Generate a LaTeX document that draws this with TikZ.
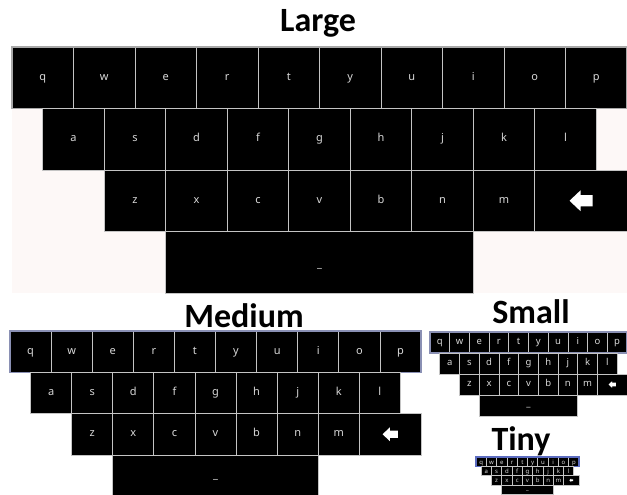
\documentclass[tikz,border=0pt]{standalone}
\usepackage{fontspec}
\setmainfont{Carlito}
\newfontfamily\keyfont{Noto Sans}
\usetikzlibrary{positioning, calc}

\definecolor{keyline}{HTML}{C4C4C4}
\definecolor{keytext}{HTML}{D8D8D8}
\definecolor{padbg}{HTML}{FDF8F7}
\definecolor{rowgray}{HTML}{A8A8A8}
\definecolor{rowblue}{HTML}{8A90B4}
\definecolor{tinyblue}{HTML}{5C6CC0}

\begin{document}
\begin{tikzpicture}[x=1pt, y=-1pt,
    key/.style={draw=keyline, line width=0.8pt, fill=black, text=keytext, inner sep=0pt, outer sep=0pt,
                text height=1ex, text depth=0pt},
    keylbl/.style={text=keytext, inner sep=0pt},
    title/.style={font=\bfseries\fontsize{34}{34}\selectfont, anchor=base}]
    \useasboundingbox (0,0) rectangle (627,495);

    % background behind the large pad
    \fill[padbg] (12,47) rectangle (627,293);

    % keyboards: name / left / top / key width / key height / font size / outline colour
    \foreach \kb/\ox/\oy/\kw/\kh/\fs/\oc in {L/12/47/61.5/61.5/11/rowgray,
                                              M/10/331/41.1/41.3/11/rowblue,
                                              S/430/332/19.7/21/9.5/rowblue,
                                              T/476/457/10.3/9.3/6/tinyblue} {
        \begin{scope}[every node/.append style={minimum height={\kh*1pt}, font=\keyfont\fontsize{\fs}{\fs}\selectfont}]
            % top row
            \foreach \k [count=\i from 0] in {q,w,e,r,t,y,u,i,o,p}
                \node[key, minimum width={\kw*1pt}] (\kb-\k) at ({\ox+(\i+0.5)*\kw}, {\oy+0.5*\kh}) {\k};
            \draw[\oc, line width=1.2pt] (\kb-q.north west) rectangle (\kb-p.south east);

            % middle row
            \foreach \k [count=\i from 0] in {a,s,d,f,g,h,j,k,l}
                \node[key, minimum width={\kw*1pt}] (\kb-\k) at ({\ox+(\i+1)*\kw}, {\oy+1.5*\kh}) {\k};

            % bottom row and backspace
            \foreach \k [count=\i from 0] in {z,x,c,v,b,n,m}
                \node[key, minimum width={\kw*1pt}] (\kb-\k) at ({\ox+(\i+2)*\kw}, {\oy+2.5*\kh}) {\k};
            \node[key, minimum width={1.5*\kw*1pt}] (\kb-bksp) at ({\ox+9.25*\kw}, {\oy+2.5*\kh}) {};
            \fill[white] (\kb-bksp.center) ++({-0.185*\kw},0) -- ++({0.18*\kw},{-0.17*\kw}) -- ++(0,{0.08*\kw})
                -- ++({0.195*\kw},0) -- ++(0,{0.18*\kw}) -- ++({-0.195*\kw},0) -- ++(0,{0.08*\kw}) -- cycle;

            % space bar
            \node[key, minimum width={5*\kw*1pt}] (\kb-space) at ({\ox+5*\kw}, {\oy+3.5*\kh}) {};
            \node[keylbl, minimum height=0pt] (\kb-uscore) at ([yshift={-0.1*\kh*1pt}]\kb-space.center) {\_};
        \end{scope}
    }

    % titles
    \node[title] (ttl-large) at (318,32) {Large};
    \node[title] (ttl-medium) at (244,327) {Medium};
    \node[title] (ttl-small) at (531,323) {Small};
    \node[title] (ttl-tiny) at (521,450) {Tiny};
\end{tikzpicture}
\end{document}
